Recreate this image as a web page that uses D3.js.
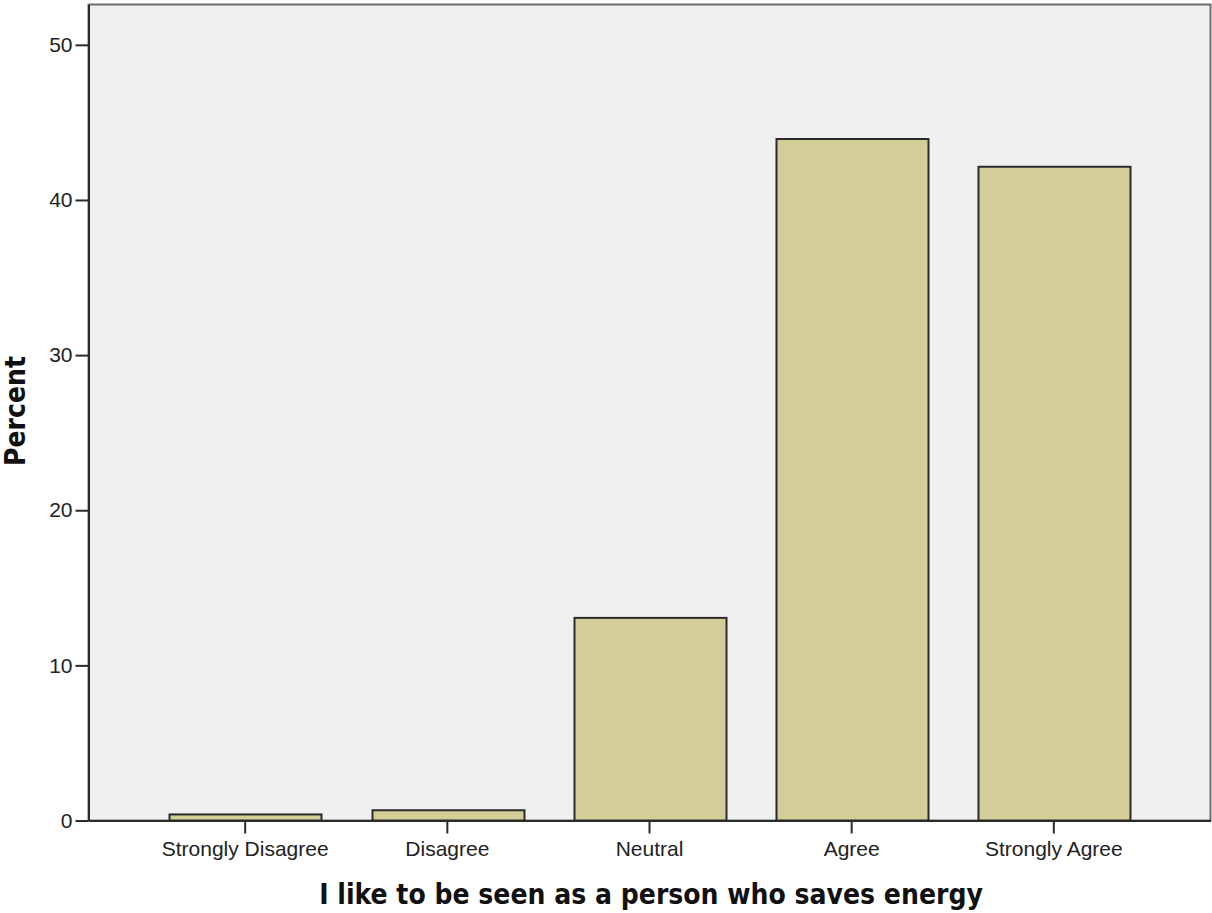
<html>
<head>
<script src="https://d3js.org/d3.v7.min.js"></script>
<style>
body { margin: 0; background: #fff; }
svg { display: block; }
</style>
</head>
<body>
<div id="chart"></div>
<script>
// data
var categories = ["Strongly Disagree", "Disagree", "Neutral", "Agree", "Strongly Agree"];
var percents = [0.39, 0.66, 13.06, 43.93, 42.14];
var yTicks = [0, 10, 20, 30, 40, 50];

var W = 1212, H = 913;
var plotL = 88.5, plotR = 1210.5, plotT = 4.5, plotB = 820.5;

var svg = d3.select("#chart").append("svg").attr("width", W).attr("height", H);

var x = d3.scaleBand().domain(categories).range([plotL, plotR])
  .paddingInner(0.25).paddingOuter(0.4);
var y = d3.scaleLinear().domain([0, 52.6]).range([plotB, plotT]);

// plot background + frame
svg.append("rect")
  .attr("x", plotL).attr("y", plotT)
  .attr("width", plotR - plotL).attr("height", plotB - plotT)
  .style("fill", "#f0f0f0").style("stroke", "#6e6e6e").style("stroke-width", 2);

// bars
svg.selectAll(".bar")
  .data(percents)
  .enter().append("rect")
  .attr("class", "bar")
  .attr("x", function(d, i) { return Math.round(x(categories[i])) + 0.5; })
  .attr("y", function(d) { return y(d); })
  .attr("width", Math.round(x.bandwidth()))
  .attr("height", function(d) { return plotB - y(d); })
  .style("fill", "#d3ce98")
  .style("stroke", "#2b2b2b")
  .style("stroke-width", 2);

// y axis
var yAxis = svg.append("g")
  .attr("transform", "translate(" + plotL + ",0)")
  .call(d3.axisLeft(y).tickValues(yTicks).tickSizeInner(13).tickSizeOuter(0).tickPadding(3));
// x axis
var xAxis = svg.append("g")
  .attr("transform", "translate(0," + plotB + ")")
  .call(d3.axisBottom(x).tickSizeInner(13).tickSizeOuter(0).tickPadding(3));

[yAxis, xAxis].forEach(function(g) {
  g.select(".domain").style("stroke", "#2b2b2b").style("stroke-width", 2);
  g.selectAll(".tick line").style("stroke", "#2b2b2b").style("stroke-width", 2);
  g.selectAll(".tick text")
    .style("font-family", "'Liberation Sans', Arial, sans-serif")
    .style("font-size", "21px")
    .style("fill", "#222");
});
xAxis.selectAll(".tick text").attr("y", 35).attr("dy", 0);

// axis titles
svg.append("text")
  .attr("x", 651)
  .attr("y", 904)
  .attr("text-anchor", "middle")
  .style("font-family", "'DejaVu Sans Condensed', 'DejaVu Sans', sans-serif")
  .style("font-weight", "bold")
  .style("font-size", "28px")
  .style("fill", "#111")
  .text("I like to be seen as a person who saves energy");

svg.append("text")
  .attr("transform", "translate(25,411) rotate(-90)")
  .attr("text-anchor", "middle")
  .style("font-family", "'DejaVu Sans Condensed', 'DejaVu Sans', sans-serif")
  .style("font-weight", "bold")
  .style("font-size", "28px")
  .style("fill", "#111")
  .text("Percent");
</script>
</body>
</html>
